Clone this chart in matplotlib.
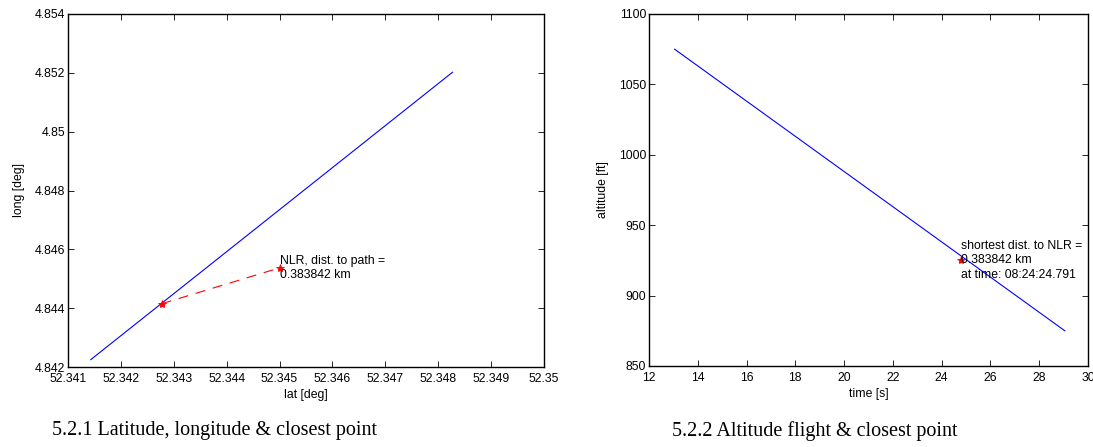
#!/usr/bin/env python3
"""Flight path vs NLR: lat/long closest point and altitude over time."""
import numpy as np
import matplotlib
matplotlib.use('Agg')
import matplotlib.pyplot as plt
from matplotlib.ticker import FixedLocator

# --- data ---
path_lat = [52.34143, 52.34827]
path_long = [4.84225, 4.85202]
closest_lat = [52.34277, 52.34500]
closest_long = [4.84415, 4.84537]
nlr_label = 'NLR, dist. to path =\n0.383842 km'

time_s = [13.05, 29.05]
altitude_ft = [1075.0, 875.0]
closest_time = [24.79]
closest_alt = [925.0]
alt_label = 'shortest dist. to NLR =\n0.383842 km\nat time: 08:24:24.791'

lat_ticks = [52.341, 52.342, 52.343, 52.344, 52.345, 52.346, 52.347, 52.348, 52.349, 52.35]
lat_ticklabels = ['52.341', '52.342', '52.343', '52.344', '52.345', '52.346', '52.347', '52.348', '52.349', '52.35']
long_ticks = [4.842, 4.844, 4.846, 4.848, 4.85, 4.852, 4.854]
long_ticklabels = ['4.842', '4.844', '4.846', '4.848', '4.85', '4.852', '4.854']
time_ticks = [12, 14, 16, 18, 20, 22, 24, 26, 28, 30]
alt_ticks = [850, 900, 950, 1000, 1050, 1100]

captions = ['5.2.1 Latitude, longitude & closest point', '5.2.2 Altitude flight & closest point']

plt.rcParams['font.family'] = ['Liberation Sans', 'DejaVu Sans']
W, H = 1093, 447
fig = plt.figure(figsize=(W / 100, H / 100), dpi=100)
FS = 8.8


def px_axes(x0, y0, x1, y1):
    return fig.add_axes([x0 / W, 1 - y1 / H, (x1 - x0) / W, (y1 - y0) / H])


def matlab_style(ax):
    ax.tick_params(direction='in', top=True, right=True, length=4, width=0.6,
                   labelsize=FS, colors='black')
    ax.tick_params(axis='x', pad=4.5)
    ax.tick_params(axis='y', pad=2)
    for s in ax.spines.values():
        s.set_linewidth(1.0)


ax1 = px_axes(68, 14, 544, 367)
ax1.plot(path_lat, path_long, color='blue', lw=0.8)
ax1.plot(closest_lat, closest_long, color='red', lw=0.8, dashes=(9, 7))
ax1.plot(closest_lat, closest_long, ls='none', marker='*', color='red', ms=6, mew=0.6)
ax1.text(closest_lat[1], closest_long[1], nlr_label, fontsize=FS, ha='left', va='center',
         linespacing=1.3)
ax1.set_xlim(52.341, 52.35)
ax1.set_ylim(4.842, 4.854)
ax1.xaxis.set_major_locator(FixedLocator(lat_ticks))
ax1.set_xticklabels(lat_ticklabels)
ax1.yaxis.set_major_locator(FixedLocator(long_ticks))
ax1.set_yticklabels(long_ticklabels)
ax1.set_xlabel('lat [deg]', fontsize=FS, labelpad=3)
ax1.set_ylabel('long [deg]', fontsize=FS, labelpad=7)
matlab_style(ax1)

ax2 = px_axes(649, 14, 1088, 366)
ax2.plot(time_s, altitude_ft, color='blue', lw=0.8)
ax2.plot(closest_time, closest_alt, ls='none', marker='*', color='red', ms=6, mew=0.6)
ax2.text(closest_time[0], closest_alt[0], alt_label, fontsize=FS, ha='left', va='center',
         linespacing=1.3)
ax2.set_xlim(12, 30)
ax2.set_ylim(850, 1100)
ax2.xaxis.set_major_locator(FixedLocator(time_ticks))
ax2.yaxis.set_major_locator(FixedLocator(alt_ticks))
ax2.set_xlabel('time [s]', fontsize=FS, labelpad=3)
ax2.set_ylabel('altitude [ft]', fontsize=FS, labelpad=7)
matlab_style(ax2)

fig.text(214 / W, 1 - 431 / H, captions[0], family='Liberation Serif', fontsize=14.5,
         ha='center', va='center')
fig.text(815 / W, 1 - 431 / H, captions[1], family='Liberation Serif', fontsize=14.5,
         ha='center', va='center')

fig.savefig('out.png', dpi=100)
